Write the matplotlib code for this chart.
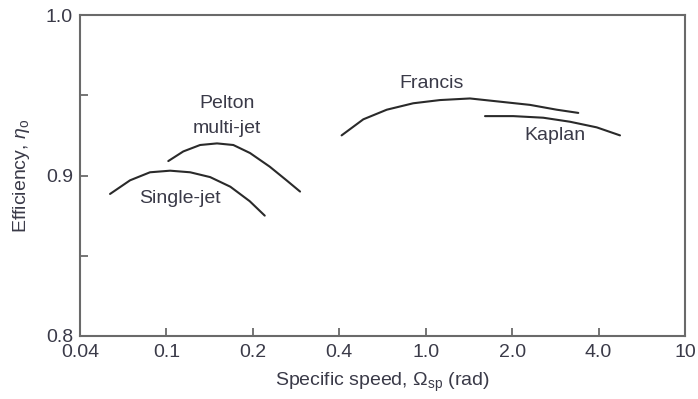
import numpy as np
import matplotlib
matplotlib.use("Agg")
import matplotlib.pyplot as plt

plt.rcParams['font.family'] = ['Liberation Sans', 'DejaVu Sans']
plt.rcParams['mathtext.fontset'] = 'custom'
plt.rcParams['mathtext.rm'] = 'Liberation Sans'
plt.rcParams['mathtext.it'] = 'Liberation Sans:italic'

# tick values of the (evenly spaced) specific-speed axis
x_ticks = [0.04, 0.1, 0.2, 0.4, 1.0, 2.0, 4.0, 10]
x_tick_labels = ['0.04', '0.1', '0.2', '0.4', '1.0', '2.0', '4.0', '10']
y_ticks = [0.8, 0.9, 1.0]
y_minor = [0.85, 0.95]

# curves (specific speed, efficiency)
single_x = [0.055, 0.068, 0.084, 0.103, 0.121, 0.142, 0.167, 0.195, 0.220]
single_y = [0.8885, 0.897, 0.902, 0.903, 0.902, 0.899, 0.893, 0.884, 0.875]

multi_x = [0.1015, 0.1145, 0.131, 0.150, 0.171, 0.1955, 0.229, 0.262, 0.292]
multi_y = [0.909, 0.915, 0.919, 0.920, 0.919, 0.914, 0.9055, 0.897, 0.890]

francis_x = [0.410, 0.516, 0.662, 0.876, 1.121, 1.426, 1.814, 2.308, 2.858, 3.399]
francis_y = [0.925, 0.935, 0.941, 0.945, 0.947, 0.948, 0.946, 0.944, 0.941, 0.939]

kaplan_x = [1.609, 2.018, 2.567, 3.180, 3.940, 5.02]
kaplan_y = [0.937, 0.937, 0.936, 0.9335, 0.930, 0.925]

# curve labels (text, specific speed, efficiency)
labels = [('Pelton', 0.163, 0.9446),
          ('multi-jet', 0.163, 0.929),
          ('Single-jet', 0.1115, 0.8854),
          ('Francis', 1.052, 0.9573),
          ('Kaplan', 2.82, 0.925)]

_lt = np.log(np.array(x_ticks, dtype=float))
_pos = np.arange(len(x_ticks), dtype=float)

def fwd(x):
    x = np.asarray(x, dtype=float)
    lx = np.log(np.clip(x, 1e-12, None))
    return np.interp(lx, _lt, _pos) + \
        np.where(lx < _lt[0], (lx - _lt[0]) / (_lt[1] - _lt[0]), 0) + \
        np.where(lx > _lt[-1], (lx - _lt[-1]) / (_lt[-1] - _lt[-2]), 0)

def inv(p):
    p = np.asarray(p, dtype=float)
    return np.exp(np.interp(p, _pos, _lt))

fig = plt.figure(figsize=(6.98, 3.99), dpi=100)
ax = fig.add_axes([80/698, 1-336/399, 605/698, 321/399])
ax.set_xscale('function', functions=(fwd, inv))
ax.set_xlim(x_ticks[0], x_ticks[-1])
ax.set_ylim(0.8, 1.0)

lc = '#2a2a2a'
for xs, ys in [(single_x, single_y), (multi_x, multi_y),
               (francis_x, francis_y), (kaplan_x, kaplan_y)]:
    ax.plot(xs, ys, color=lc, lw=1.5, solid_capstyle='round', solid_joinstyle='round')

tc = '#3a3a48'
fs = 14
for t, x, y in labels:
    ax.text(x, y, t, ha='center', va='center', fontsize=fs, color=tc)

ax.set_xticks(x_ticks)
ax.set_xticklabels(x_tick_labels)
ax.xaxis.set_minor_locator(matplotlib.ticker.NullLocator())
ax.set_yticks(y_ticks)
ax.set_yticklabels(['0.8', '0.9', '1.0'])
ax.set_yticks(y_minor, minor=True)

sc = '#6a6a6a'
for s in ax.spines.values():
    s.set_color(sc)
    s.set_linewidth(1.5)
ax.tick_params(axis='both', which='both', direction='in', color=sc, width=1.3,
               labelsize=fs, labelcolor=tc, top=False, right=False)
ax.tick_params(axis='both', which='major', length=6)
ax.tick_params(axis='y', which='minor', length=6)
ax.tick_params(axis='x', pad=6)
ax.tick_params(axis='y', pad=5)

ax.set_xlabel(r'Specific speed, $\Omega_{\rm sp}$ (rad)', fontsize=fs, color=tc, labelpad=7)
ax.set_ylabel(r'Efficiency, $\eta_{\rm o}$', fontsize=fs, color=tc, labelpad=10)

fig.savefig('out.png', dpi=100)
